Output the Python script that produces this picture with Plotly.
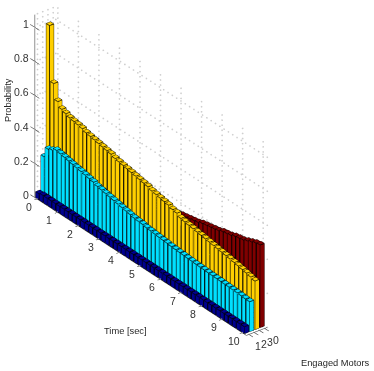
import math
import plotly.graph_objects as go

times = [round(i * 0.2, 1) for i in range(51)]
motor_labels = ["1", "2", "3", "0"]
time_ticks = [0, 1, 2, 3, 4, 5, 6, 7, 8, 9, 10]
prob_ticks = [0, 0.2, 0.4, 0.6, 0.8, 1]
prob_labels = ["0", "0.2", "0.4", "0.6", "0.8", "1"]

p_one = [.035,.04,.04,.04,.04,.04,.04,.04,.04,.04,.04,.04,.04,.04,.04,.04,.04,.04,.04,.04,.04,.04,.04,.04,.04,
         .04,.04,.04,.04,.04,.04,.04,.04,.04,.04,.04,.04,.04,.04,.04,.04,.04,.04,.04,.04,.04,.04,.04,.04,.04,.04]
p_two = [.24,.30,.31,.325,.32,.315,.31,.305,.30,.295,.29,.285,.28,.27,.265,.26,.255,.25,.245,.24,.235,.23,.225,.222,.22,
         .215,.213,.21,.207,.205,.203,.2,.198,.196,.195,.193,.192,.19,.189,.188,.187,.186,.185,.184,.183,.182,.181,.18,.178,.176,.175]
p_three = [1.0,.675,.585,.555,.545,.535,.53,.525,.52,.51,.505,.50,.495,.49,.485,.48,.47,.465,.46,.455,.45,.445,.44,.435,.43,
           .42,.415,.41,.405,.40,.39,.385,.37,.365,.36,.356,.352,.348,.344,.34,.336,.332,.328,.324,.32,.315,.31,.305,.30,.293,.285]
p_zero = [0,.01,.04,.07,.09,.11,.125,.14,.15,.165,.175,.185,.195,.205,.215,.225,.24,.25,.26,.27,.28,.29,.30,.31,.32,
          .33,.335,.34,.345,.35,.355,.36,.365,.37,.375,.38,.39,.395,.40,.405,.41,.42,.425,.43,.44,.445,.45,.46,.47,.48,.485]
series = [p_one, p_two, p_three, p_zero]
colors = ["#00008f", "#00dfff", "#ffcf00", "#800000"]

T0, T1 = -0.1, 10.2
Y0, Y1 = 0.5, 4.5
ZTOP = 1.075
RX = [-2.0, 15.6]; RY = [-2.0, 7.0]; RZ = [-0.28, 1.46]
AZ = math.radians(52.5); EL = math.radians(30)
D = 1.0
ZOOM = 3.2
BW, BD = 0.16, 0.8

fig = go.Figure()
for k, (vals, col) in enumerate(zip(series, colors)):
    X, Y, Z, I, J, K = [], [], [], [], [], []
    ex, ey, ez = [], [], []
    yc = k + 1
    for t, v in zip(times, vals):
        if v <= 0:
            continue
        x0, x1 = t - BW / 2, t + BW / 2
        y0, y1 = yc - BD / 2, yc + BD / 2
        n = len(X)
        X += [x0, x1, x1, x0, x0, x1, x1, x0]
        Y += [y0, y0, y1, y1, y0, y0, y1, y1]
        Z += [0, 0, 0, 0, v, v, v, v]
        for q in [(0,1,2),(0,2,3),(4,5,6),(4,6,7),(0,1,5),(0,5,4),(1,2,6),(1,6,5),(2,3,7),(2,7,6),(3,0,4),(3,4,7)]:
            I.append(n + q[0]); J.append(n + q[1]); K.append(n + q[2])
        for a, b in [(0,1),(1,2),(2,3),(3,0),(4,5),(5,6),(6,7),(7,4),(0,4),(1,5),(2,6),(3,7)]:
            ex += [X[n+a], X[n+b], None]; ey += [Y[n+a], Y[n+b], None]; ez += [Z[n+a], Z[n+b], None]
    fig.add_trace(go.Mesh3d(x=X, y=Y, z=Z, i=I, j=J, k=K, color=col, flatshading=True,
                            lighting=dict(ambient=1, diffuse=0, specular=0, fresnel=0), hoverinfo="skip"))
    fig.add_trace(go.Scatter3d(x=ex, y=ey, z=ez, mode="lines", line=dict(color="#000000", width=1.5), hoverinfo="skip"))

# dotted grid: small dots stepped along each grid segment
gx, gy, gz = [], [], []
def dots(a, b, step_px):
    px = math.hypot(20.3 * (b[0] - a[0]) + 5.2 * (b[1] - a[1]),
                    13.3 * (b[0] - a[0]) - 1.9 * (b[1] - a[1]) - 169 * (b[2] - a[2]))
    n = max(1, int(px / step_px))
    for i in range(n + 1):
        f = i / n
        gx.append(a[0] + f * (b[0] - a[0])); gy.append(a[1] + f * (b[1] - a[1])); gz.append(a[2] + f * (b[2] - a[2]))
for z in prob_ticks:
    dots((T0, Y0, z), (T0, Y1, z), 5); dots((T0, Y1, z), (T1, Y1, z), 5)
for t in time_ticks:
    dots((t, Y0, 0), (t, Y1, 0), 5); dots((t, Y1, 0), (t, Y1, ZTOP), 5)
for m in range(1, 5):
    dots((T1, m, 0), (T0, m, 0), 5); dots((T0, m, 0), (T0, m, ZTOP), 5)
fig.add_trace(go.Scatter3d(x=gx, y=gy, z=gz, mode="markers", marker=dict(color="#cfcfcf", size=1, line=dict(width=0)), hoverinfo="skip"))

ax, ay, az = [T0, T0, None, T0, T1, None, T1, T1, None], [Y0, Y0, None, Y0, Y0, None, Y0, Y1, None], [0, ZTOP, None, 0, 0, None, 0, 0, None]
for z in prob_ticks:
    ax += [T0 - 0.22, T0 + 0.22, None]; ay += [Y0, Y0, None]; az += [z, z, None]
for t in time_ticks:
    ax += [t, t, None]; ay += [Y0 - 0.5, Y0, None]; az += [0, 0, None]
for m in range(1, 5):
    ax += [T1, T1 + 0.2, None]; ay += [m, m, None]; az += [0, 0, None]
fig.add_trace(go.Scatter3d(x=ax, y=ay, z=az, mode="lines", line=dict(color="#262626", width=1), hoverinfo="skip"))

ann = []
txt = dict(family="Liberation Sans", size=9.3, color="#262626")
tick = dict(family="Liberation Sans", size=10.5, color="#333333")
for z, s in zip(prob_ticks, prob_labels):
    ann.append(dict(x=T0, y=Y0, z=z, text=s, showarrow=False, xanchor="right", xshift=-4, yshift=3, font=tick))
for t in time_ticks:
    ann.append(dict(x=t, y=Y0, z=0, text=str(t), showarrow=False, xanchor="center", xshift=-8, yshift=-8, font=tick))
for m, s in zip(range(1, 5), motor_labels):
    ann.append(dict(x=T1, y=m, z=0, text=s, showarrow=False, xanchor="center", xshift=8.5 + 0.8 * m, yshift=-12, font=tick))

titles = [("Probability", 8, 100, -90), ("Time [sec]", 125, 331, 0), ("Engaged Motors", 335, 363, 0)]
fig.update_layout(
    width=374, height=371, margin=dict(l=0, r=0, t=0, b=0), showlegend=False,
    paper_bgcolor="white",
    scene=dict(
        domain=dict(x=[0, 1], y=[0, 1]),
        aspectmode="manual", aspectratio=dict(x=1.0*ZOOM, y=0.1*ZOOM, z=0.576*ZOOM),
        xaxis=dict(visible=False, range=RX), yaxis=dict(visible=False, range=RY), zaxis=dict(visible=False, range=RZ),
        camera=dict(projection=dict(type="orthographic"), up=dict(x=0, y=0, z=1), center=dict(x=0, y=0, z=0),
                    eye=dict(x=D*math.sin(AZ)*math.cos(EL), y=-D*math.cos(AZ)*math.cos(EL), z=D*math.sin(EL))),
        annotations=ann,
    ),
    annotations=[dict(text=s, x=px/374, y=1-py/371, xref="paper", yref="paper", xanchor="center", yanchor="middle",
                      showarrow=False, textangle=r, font=txt) for s, px, py, r in titles],
)
fig.write_html("out.html", config=dict(displayModeBar=False), post_script="document.body.style.margin='0';")
